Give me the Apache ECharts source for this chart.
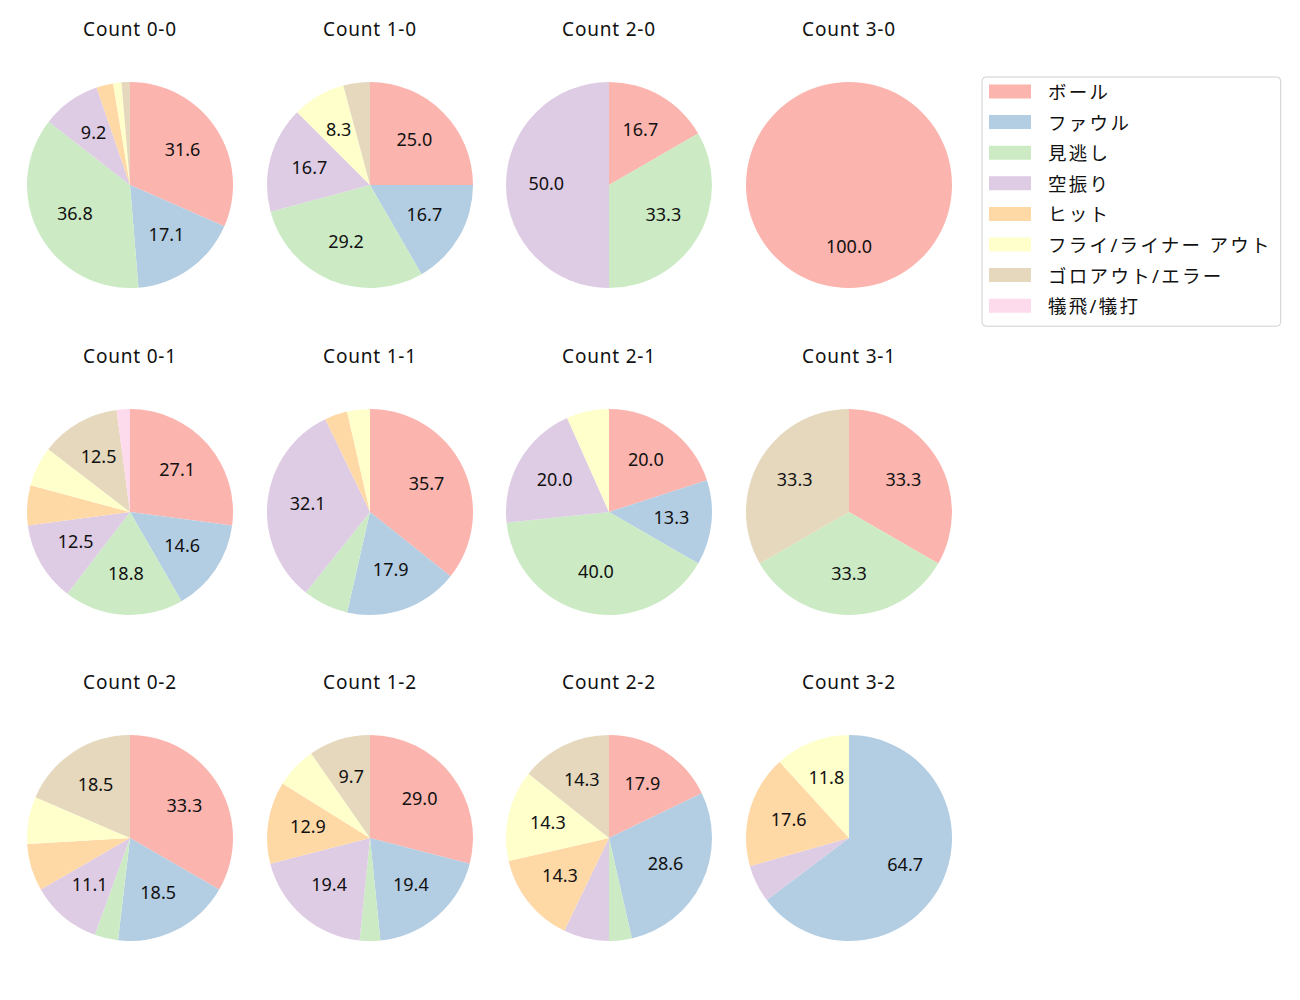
<!DOCTYPE html>
<html>
<head>
<meta charset="utf-8">
<script src="https://cdn.jsdelivr.net/npm/echarts@6/dist/echarts.min.js"></script>
<style>
  html, body { margin: 0; padding: 0; background: #fff; }
  #pieGrid { width: 1300px; height: 1000px; }
</style>
</head>
<body>
<div id="pieGrid"></div>
<script>
// 結果の種類 (legend order)
const kinds = ['ボール', 'ファウル', '見逃し', '空振り', 'ヒット', 'フライ/ライナー アウト', 'ゴロアウト/エラー', '犠飛/犠打'];
const kindColors = ['#fbb4ae', '#b3cde3', '#ccebc5', '#decbe4', '#fed9a6', '#ffffcc', '#e5d8bd', '#fddaec'];

// counts per ball-strike, same order as kinds
const titles = ['Count 0-0', 'Count 1-0', 'Count 2-0', 'Count 3-0',
                'Count 0-1', 'Count 1-1', 'Count 2-1', 'Count 3-1',
                'Count 0-2', 'Count 1-2', 'Count 2-2', 'Count 3-2'];
const count00 = [24, 13, 28, 7, 2, 1, 1, 0];
const count10 = [6, 4, 7, 4, 0, 2, 1, 0];
const count20 = [1, 0, 2, 3, 0, 0, 0, 0];
const count30 = [1, 0, 0, 0, 0, 0, 0, 0];
const count01 = [13, 7, 9, 6, 3, 3, 6, 1];
const count11 = [10, 5, 2, 9, 1, 1, 0, 0];
const count21 = [3, 2, 6, 3, 0, 1, 0, 0];
const count31 = [1, 0, 1, 0, 0, 0, 1, 0];
const count02 = [9, 5, 1, 3, 2, 2, 5, 0];
const count12 = [9, 6, 1, 6, 4, 2, 3, 0];
const count22 = [5, 8, 1, 2, 4, 4, 4, 0];
const count32 = [0, 11, 0, 1, 3, 2, 0, 0];
const allCounts = [count00, count10, count20, count30, count01, count11, count21, count31, count02, count12, count22, count32];

const colX = [130, 370, 609, 849];
const rowY = [185, 512, 838];
const R = 103;
const FONT = "'Noto Sans', 'Noto Sans CJK JP', sans-serif";
// font size -> letter spacing (matplotlib の文字間隔に寄せる)
const TITLE_FS = 19, LABEL_FS = 18, LEGEND_FS = 18.5;
const spacing = { 19: '0.8px', 18: '0px', 18.5: '2.3px' };

let chart = echarts.init(document.getElementById('pieGrid'), null, { renderer: 'svg' });

let mainSeries = [], labelSeries = [], titleList = [];
allCounts.forEach((vals, i) => {
    let cx = colX[i % 4], cy = rowY[Math.floor(i / 4)];
    let total = vals.reduce((a, b) => a + b, 0);
    let data = [];
    vals.forEach((v, k) => {
        if (v > 0) data.push({ name: kinds[k], value: v, itemStyle: { color: kindColors[k] } });
    });
    titleList.push({
        text: titles[i],
        left: cx, top: cy - 166, textAlign: 'center',
        padding: 0,
        textStyle: { fontFamily: FONT, fontSize: TITLE_FS, fontWeight: 'normal', color: '#111' }
    });
    mainSeries.push({
        type: 'pie',
        center: [cx, cy],
        radius: [0, R],
        startAngle: 90,
        clockwise: true,
        silent: true,
        animation: false,
        label: { show: false },
        labelLine: { show: false },
        itemStyle: { borderWidth: 0 },
        data: data
    });
    // ラベル用 (pctdistance 0.6 くらい)
    labelSeries.push({
        type: 'pie',
        center: [cx, cy],
        radius: [R * 0.16, R],
        startAngle: 90,
        clockwise: true,
        silent: true,
        animation: false,
        labelLine: { show: false },
        itemStyle: { color: 'rgba(0,0,0,0)', borderWidth: 0 },
        label: {
            show: true,
            position: 'inside',
            fontFamily: FONT,
            fontSize: LABEL_FS,
            color: '#111',
            offset: [0, -2],
            formatter: p => {
                let pct = p.value / total * 100;
                return pct >= 8 ? pct.toFixed(1) : '';
            }
        },
        data: data.map(d => ({ name: d.name, value: d.value }))
    });
});

let options = {
    backgroundColor: '#fff',
    animation: false,
    title: titleList,
    legend: {
        orient: 'vertical',
        left: 982,
        top: 77,
        padding: [5, 36, 11, 7],
        borderColor: '#d0d0d0',
        borderWidth: 1,
        borderRadius: 4,
        itemWidth: 42,
        itemHeight: 14,
        itemGap: 11.6,
        selectedMode: false,
        textStyle: { fontFamily: FONT, fontSize: LEGEND_FS, color: '#111', lineHeight: 19, padding: [0, 0, 0, 12] },
        data: kinds.map((k, i) => ({ name: k, icon: 'rect', itemStyle: { color: kindColors[i] } }))
    },
    series: mainSeries.concat(labelSeries)
};
chart.setOption(options);

function applySpacing() {
    document.querySelectorAll('#pieGrid svg text').forEach(t => {
        let fs = parseFloat(getComputedStyle(t).fontSize);
        if (spacing[fs]) t.style.letterSpacing = spacing[fs];
    });
}
chart.on('finished', applySpacing);
applySpacing();
setTimeout(applySpacing, 50);
</script>
</body>
</html>
